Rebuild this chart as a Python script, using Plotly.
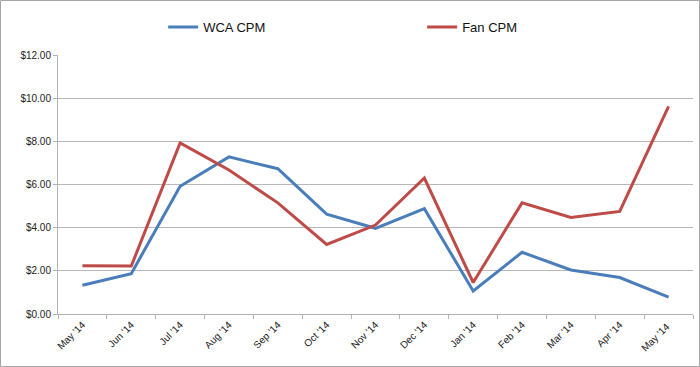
import plotly.graph_objects as go

months = ["May '14", "Jun '14", "Jul '14", "Aug '14", "Sep '14", "Oct '14", "Nov '14",
          "Dec '14", "Jan '14", "Feb '14", "Mar '14", "Apr '14", "May '14 "]
wca_cpm = [1.33, 1.87, 5.92, 7.28, 6.73, 4.63, 3.97, 4.88, 1.07, 2.86, 2.04, 1.69, 0.78]
fan_cpm = [2.24, 2.22, 7.93, 6.67, 5.15, 3.22, 4.12, 6.30, 1.46, 5.15, 4.47, 4.75, 9.62]
y_ticks = [0, 2, 4, 6, 8, 10, 12]
y_tick_labels = ["$0.00", "$2.00", "$4.00", "$6.00", "$8.00", "$10.00", "$12.00"]

fig = go.Figure()
fig.add_trace(go.Scatter(x=months, y=wca_cpm, name="WCA CPM", mode="lines",
                         line=dict(color="#4A7EBB", width=3)))
fig.add_trace(go.Scatter(x=months, y=fan_cpm, name="Fan CPM", mode="lines",
                         line=dict(color="#BE4B48", width=3)))

L, R, T, B = 58, 7, 55, 53
W, H = 700, 367
pw, ph = W - L - R, H - T - B

fig.update_layout(
    width=W, height=H,
    margin=dict(l=L, r=R, t=T, b=B, autoexpand=False),
    paper_bgcolor="white", plot_bgcolor="white",
    font=dict(family="Liberation Sans, Arial, sans-serif", color="#222222", size=10),
    showlegend=True,
    legend=dict(orientation="h", x=0.1656, xanchor="left", y=1.108, yanchor="middle",
                font=dict(size=13, color="#111111"),
                entrywidth=214, entrywidthmode="pixels", bgcolor="rgba(0,0,0,0)"),
    xaxis=dict(type="category", range=[-0.5, 12.5], showgrid=False,
               showline=True, linecolor="#b3b3b3", linewidth=1,
               ticks="outside", tickson="boundaries", ticklen=4, tickcolor="#b3b3b3",
               tickangle=-45, tickfont=dict(size=10), automargin=False),
    yaxis=dict(range=[0, 12], tickvals=y_ticks, ticktext=y_tick_labels,
               showgrid=True, gridcolor="#b8b8b8", gridwidth=1,
               showline=True, linecolor="#b3b3b3", linewidth=1,
               ticks="outside", ticklen=4, tickcolor="#b3b3b3",
               tickfont=dict(size=10), zeroline=False, automargin=False),
    shapes=[dict(type="rect", xref="paper", yref="paper",
                 x0=(0.5 - L) / pw, x1=(W - 0.5 - L) / pw,
                 y0=-(H - 0.5 - (H - B)) / ph, y1=(H - B - 0.5) / ph,
                 line=dict(color="#a6a6a6", width=1), fillcolor="rgba(0,0,0,0)",
                 layer="below")],
)

fig.write_html("out.html", config={"displayModeBar": False},
               post_script="document.body.style.margin='0';document.body.style.overflow='hidden';")
